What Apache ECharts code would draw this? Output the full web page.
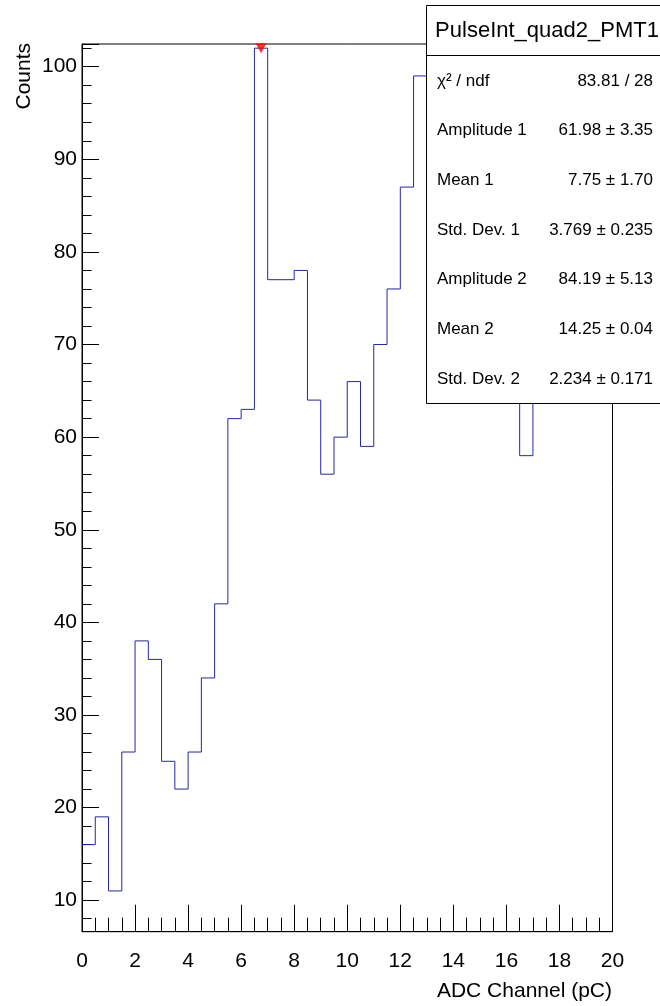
<!DOCTYPE html>
<html>
<head>
<meta charset="utf-8">
<script src="https://cdn.jsdelivr.net/npm/echarts@6/dist/echarts.min.js"></script>
<style>
  html, body { margin: 0; padding: 0; background: #fff; }
  #chart { width: 660px; height: 1006px; }
</style>
</head>
<body>
<div id="chart"></div>
<script>
var FONT = '"Liberation Sans", Arial, Helvetica, sans-serif';

// histogram: 40 bins of 0.5 pC from 0 to 20
var binWidth = 0.5;
var counts = [16, 19, 11, 26, 38, 36, 25, 22, 26, 34,
              42, 62, 63, 102, 77, 77, 78, 64, 56, 60,
              66, 59, 70, 76, 87, 99, 96, 100, 98, 94,
              88, 81, 72, 58, 68, 70, 72, 74, 77, 80];

// peak found by the search (red marker)
var peakX = [6.75];
var peakY = [102];

var xTicks = [0, 2, 4, 6, 8, 10, 12, 14, 16, 18, 20];

// stats box
var statTitle = 'PulseInt_quad2_PMT1';
var statLabels = ['χ² / ndf', 'Amplitude 1', 'Mean 1', 'Std. Dev. 1', 'Amplitude 2', 'Mean 2', 'Std. Dev. 2'];
var statValues = ['83.81 / 28', '61.98 ± 3.35', '7.75 ± 1.70', '3.769 ± 0.235', '84.19 ± 5.13', '14.25 ± 0.04', '2.234 ± 0.171'];

var stepData = counts.map(function (c, i) { return [i * binWidth, c]; });
stepData.push([counts.length * binWidth, counts[counts.length - 1]]);

var graphics = [];
// box
graphics.push({
    type: 'rect', z: 100,
    shape: { x: 426.5, y: 5.5, width: 242, height: 398 },
    style: { fill: '#fff', stroke: '#000', lineWidth: 1 }
});
graphics.push({
    type: 'line', z: 101,
    shape: { x1: 427, y1: 55.5, x2: 668, y2: 55.5 },
    style: { stroke: '#000', lineWidth: 1 }
});
graphics.push({
    type: 'text', z: 101, x: 547, y: 31,
    style: { text: statTitle, font: '22px ' + FONT, fill: '#000', textAlign: 'center', textVerticalAlign: 'middle' }
});
for (var i = 0; i < statLabels.length; i++) {
    var yy = 81 + i * 49.7;
    graphics.push({
        type: 'text', z: 101, x: 437, y: yy,
        style: { text: statLabels[i], font: '17px ' + FONT, fill: '#000', textAlign: 'left', textVerticalAlign: 'middle' }
    });
    graphics.push({
        type: 'text', z: 101, x: 653, y: yy,
        style: { text: statValues[i], font: '17px ' + FONT, fill: '#000', textAlign: 'right', textVerticalAlign: 'middle' }
    });
}
// axis titles
graphics.push({
    type: 'text', x: 612, y: 991,
    style: { text: 'ADC Channel (pC)', font: '21px ' + FONT, fill: '#000', textAlign: 'right', textVerticalAlign: 'middle' }
});
graphics.push({
    type: 'text', x: 24, y: 43, rotation: Math.PI / 2,
    style: { text: 'Counts', font: '21px ' + FONT, fill: '#000', textAlign: 'right', textVerticalAlign: 'middle' }
});

var chart = echarts.init(document.getElementById('chart'));
chart.setOption({
    animation: false,
    backgroundColor: '#fff',
    grid: {
        left: 82, right: 47.5, top: 44, bottom: 74.3,
        show: true, borderColor: '#000', borderWidth: 1
    },
    xAxis: {
        type: 'value', min: xTicks[0], max: xTicks[xTicks.length - 1], interval: 2,
        axisLine: { show: true, lineStyle: { color: '#000', width: 1 } },
        axisTick: { show: true, inside: true, length: 27, lineStyle: { color: '#000' } },
        minorTick: { show: true, splitNumber: 4, length: 14, lineStyle: { color: '#000' } },
        axisLabel: { margin: 19, color: '#000', fontSize: 21, fontFamily: FONT },
        splitLine: { show: false }
    },
    yAxis: {
        type: 'value', min: 6.6, max: 102.45,
        minInterval: 10, maxInterval: 10, splitNumber: 10,
        axisLine: { show: true, lineStyle: { color: '#000', width: 1 } },
        axisTick: { show: true, inside: true, length: 17, lineStyle: { color: '#000' } },
        minorTick: { show: true, splitNumber: 5, length: 9.5, lineStyle: { color: '#000' } },
        axisLabel: { margin: 5, color: '#000', fontSize: 21, fontFamily: FONT, showMinLabel: false, showMaxLabel: false },
        splitLine: { show: false }
    },
    series: [
        {
            type: 'line', step: 'end', data: stepData, symbol: 'none',
            lineStyle: { color: '#2626a0', width: 1 }, z: 2
        },
        {
            type: 'scatter',
            data: peakX.map(function (x, i) { return [x, peakY[i]]; }),
            symbol: 'triangle', symbolRotate: 180, symbolSize: [11, 10],
            itemStyle: { color: '#ff0000' }, z: 3
        }
    ],
    graphic: graphics
});
</script>
</body>
</html>
